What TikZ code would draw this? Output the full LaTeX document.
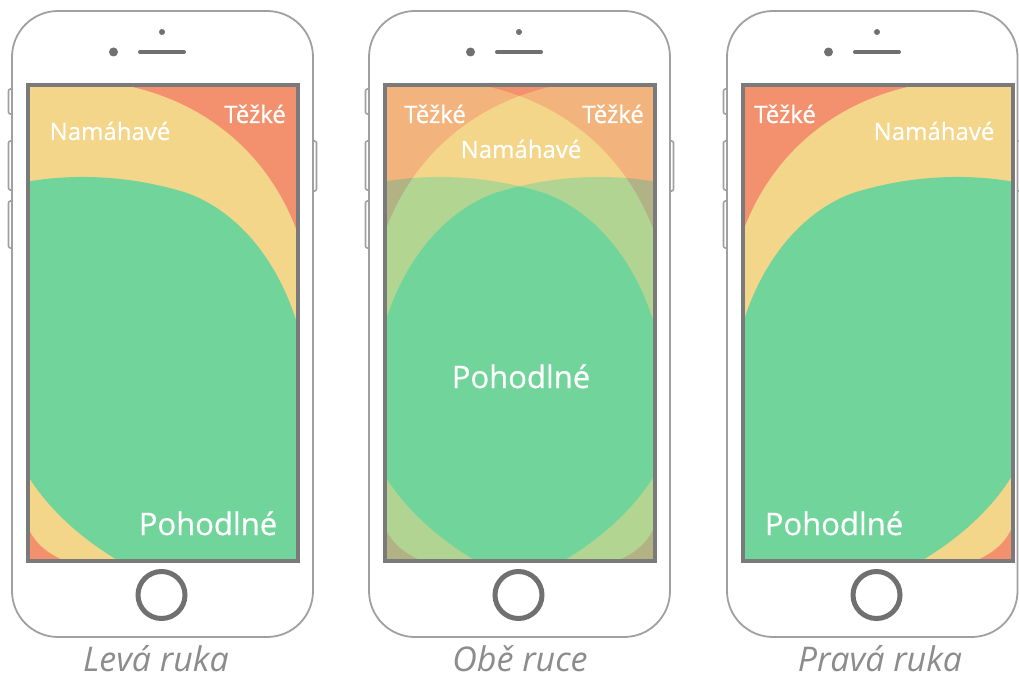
\documentclass[tikz,border=0pt]{standalone}
\usepackage{fontspec}
\setmainfont{Open Sans}
\newfontfamily\lblfont{Open Sans}[FakeBold=0.6]
\definecolor{cred}{HTML}{F3916F}
\definecolor{cyel}{HTML}{F3D68A}
\definecolor{cgrn}{HTML}{71D49B}
\definecolor{bodygray}{HTML}{A0A0A0}
\definecolor{scrgray}{HTML}{7A7A7A}
\definecolor{detgray}{HTML}{707070}
\definecolor{capgray}{HTML}{8C8C8C}
\tikzset{
  bodyline/.style={draw=bodygray, line width=1.8pt, fill=white},
  sidebtn/.style={draw=bodygray, line width=1.6pt, fill=white, rounded corners=2pt},
  scrframe/.style={draw=scrgray, line width=4pt},
  homebtn/.style={draw=detgray, line width=5pt},
  speaker/.style={draw=detgray, line width=4pt, line cap=round},
  zonelabel/.style={text=white, anchor=base, inner sep=0pt, text depth=0pt, font=\lblfont\fontsize{24}{24}\selectfont},
  biglabel/.style={text=white, anchor=base, inner sep=0pt, text depth=0pt, font=\lblfont\fontsize{31}{31}\selectfont},
  captionlabel/.style={text=capgray, anchor=base, inner sep=0pt, text depth=0pt, font=\fontsize{34}{34}\selectfont\itshape},
}
% zones of the left-hand phone, in its own pixel coordinates
\newcommand\zonesL{%
  \fill[cred] (20,78) rectangle (305,570);
  \fill[cyel] (20,78) -- (123,78) -- (123,85)
     .. controls (200,100) and (270,150) .. (300,240)
     -- (305,240) -- (305,570) -- (70,570) -- (70,563)
     .. controls (50,555) and (35,545) .. (27,525)
     -- (20,522) -- cycle;
  \fill[cgrn] (20,183) .. controls (60,175) and (120,172) .. (187,193)
     .. controls (240,212) and (288,268) .. (305,355)
     -- (305,570) -- (135,570)
     .. controls (88,545) and (45,510) .. (20,462) -- cycle;
}
\newcommand\phonebody[1]{%
  \path[sidebtn] (8.5,89) rectangle (16,114);
  \path[sidebtn] (8.5,141) rectangle (16,190);
  \path[sidebtn] (8.5,201) rectangle (16,248);
  \path[sidebtn] (#1-4,141) rectangle (#1+3.5,191);
  \path[bodyline, rounded corners=46pt] (12,11) rectangle (#1,637);
}
\newcommand\phonedetails{%
  \draw[scrframe] (27.5,85.5) rectangle (297.5,560.5);
  \fill[detgray] (162,32) circle[radius=3pt];
  \fill[detgray] (113.5,52) circle[radius=4.5pt];
  \draw[speaker] (140,52) -- (184,52);
  \draw[homebtn] (161.5,595) circle[radius=23.5pt];
}
\begin{document}
\begin{tikzpicture}[x=1pt,y=-1pt]
\useasboundingbox (0,0) rectangle (1019,679);
\fill[white] (0,0) rectangle (1019,679);
% ---------- phone 1: left hand
\begin{scope}
  \phonebody{313}
  \begin{scope}
    \clip (27.5,85.5) rectangle (297.5,560.5);
    \zonesL
  \end{scope}
  \phonedetails
\end{scope}
% ---------- phone 2: both hands
\begin{scope}[xshift=357pt]
  \phonebody{313}
  \begin{scope}
    \clip (27.5,85.5) rectangle (297.5,560.5);
    \zonesL
    \begin{scope}[xshift=325pt, x=-1pt, transparency group, opacity=0.5]
      \zonesL
    \end{scope}
  \end{scope}
  \phonedetails
\end{scope}
% ---------- phone 3: right hand
\begin{scope}[xshift=715pt]
  \phonebody{302.5}
\end{scope}
\begin{scope}[xshift=1040pt, x=-1pt]
  \clip (27.5,85.5) rectangle (297.5,560.5);
  \zonesL
\end{scope}
\begin{scope}[xshift=715pt]
  \phonedetails
\end{scope}
% ---------- labels
\node[zonelabel] (t1) at (255,123) {Těžké};
\node[zonelabel] (n1) at (110,140) {Namáhavé};
\node[biglabel] (p1) at (208,535) {Pohodlné};
\node[zonelabel] (t2l) at (435,123) {Těžké};
\node[zonelabel] (t2r) at (613,123) {Těžké};
\node[zonelabel] (n2) at (521,158) {Namáhavé};
\node[biglabel] (p2) at (521,388) {Pohodlné};
\node[zonelabel] (t3) at (785,123) {Těžké};
\node[zonelabel] (n3) at (934,140) {Namáhavé};
\node[biglabel] (p3) at (834,535) {Pohodlné};
\node[captionlabel] (c1) at (156,671) {Levá ruka};
\node[captionlabel] (c2) at (520,671) {Obě ruce};
\node[captionlabel] (c3) at (880,671) {Pravá ruka};
\end{tikzpicture}
\end{document}
